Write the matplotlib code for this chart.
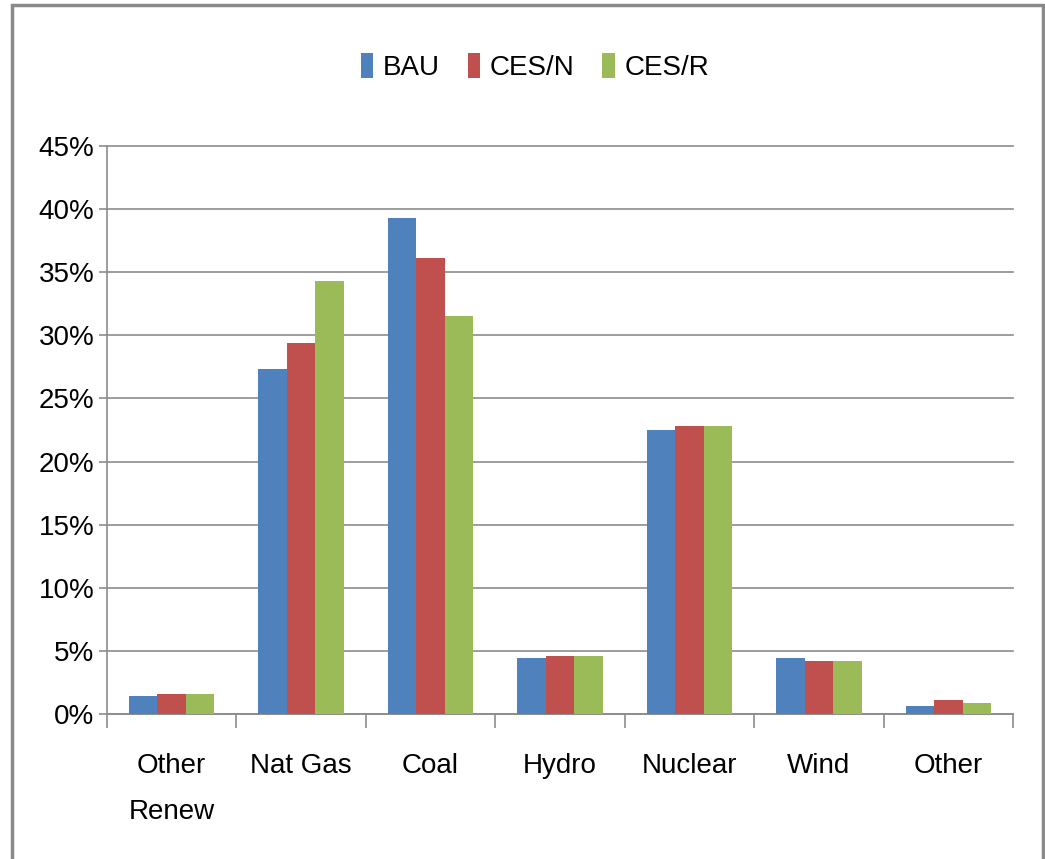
import numpy as np
import matplotlib.pyplot as plt
from matplotlib.patches import Rectangle
from matplotlib.ticker import PercentFormatter

categories = ["Other\nRenew", "Nat Gas", "Coal", "Hydro", "Nuclear", "Wind", "Other"]
series = ["BAU", "CES/N", "CES/R"]
bau = [1.4, 27.3, 39.3, 4.4, 22.5, 4.4, 0.6]
ces_n = [1.6, 29.4, 36.1, 4.6, 22.8, 4.2, 1.1]
ces_r = [1.6, 34.3, 31.5, 4.6, 22.8, 4.2, 0.9]
colors = ["#4F81BD", "#C0504D", "#9BBB59"]

plt.rcParams['font.family'] = ['Liberation Sans', 'DejaVu Sans']
grid_col = "#8c8c8c"


def main():
    fig = plt.figure(figsize=(10.45, 8.59), dpi=100)
    ax = fig.add_axes([0.1024, 0.1688, 0.8670, 0.6612])

    x = np.arange(len(categories))
    w = 0.22
    for i, (vals, c, name) in enumerate(zip([bau, ces_n, ces_r], colors, series)):
        ax.bar(x + (i - 1) * w, vals, width=w, color=c, label=name, zorder=3)

    ax.set_xlim(-0.5, len(categories) - 0.5)
    ax.set_ylim(0, 45)
    ax.set_yticks(np.arange(0, 46, 5))
    ax.yaxis.set_major_formatter(PercentFormatter(decimals=0))
    ax.grid(axis='y', color=grid_col, lw=1.2, zorder=0)
    for gl in ax.get_ygridlines():
        gl.set_clip_on(False)

    ax.set_xticks(x)
    ax.set_xticklabels(categories, linespacing=2.0)
    ax.set_xticks(np.arange(-0.5, len(categories), 1), minor=True)
    ax.tick_params(axis='x', which='major', length=0, pad=28, labelsize=20)
    ax.tick_params(axis='x', which='minor', length=10, width=1.2, color=grid_col)
    ax.tick_params(axis='y', length=6, width=1.2, color=grid_col, pad=3, labelsize=20)

    for s in ['top', 'right']:
        ax.spines[s].set_visible(False)
    for s in ['left', 'bottom']:
        ax.spines[s].set_color(grid_col)
        ax.spines[s].set_linewidth(1.2)

    fig.legend(loc='center', bbox_to_anchor=(0.512, 0.922), ncol=3, frameon=False,
               fontsize=20, handlelength=0.45, handleheight=1.0, handletextpad=0.35,
               columnspacing=1.0)

    # gray frame around the chart
    fig.patches.append(Rectangle((0.0115, -0.01), 0.987, 1.004, transform=fig.transFigure,
                                 fill=False, edgecolor="#8a8a8a", lw=2.5))

    fig.savefig("out.png", dpi=100)


if __name__ == "__main__":
    main()
